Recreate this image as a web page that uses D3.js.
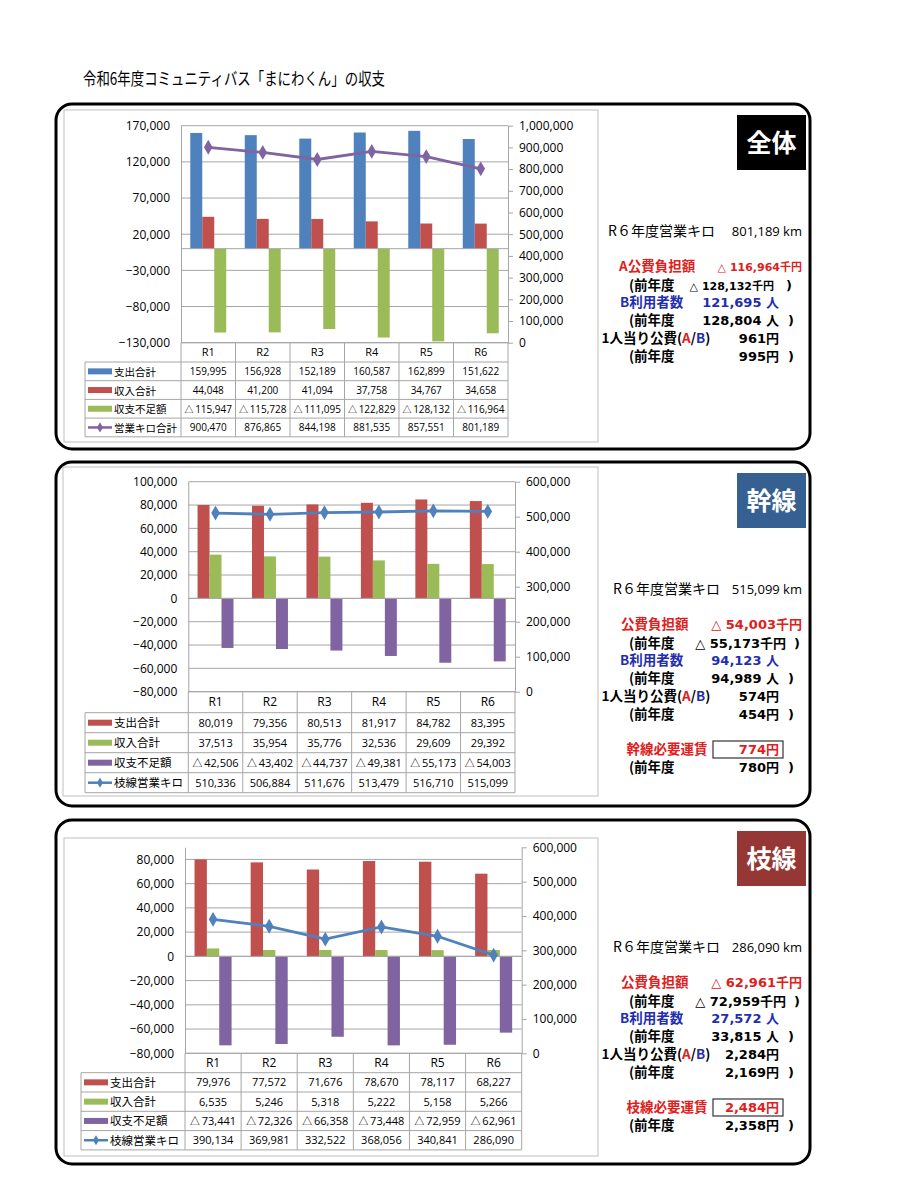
<!DOCTYPE html>
<html>
<head>
<meta charset="utf-8">
<script src="https://cdn.jsdelivr.net/npm/d3@7/dist/d3.min.js"></script>
<style>
  body { margin: 0; background: #fff; }
  text { font-family: "Noto Sans CJK JP", sans-serif; }
  .num { font-family: "Open Sans", "Noto Sans CJK JP", sans-serif; }
  .bnum { font-family: "DejaVu Sans", "Noto Sans CJK JP", sans-serif; font-weight: bold; }
</style>
</head>
<body>
<svg width="901" height="1200"></svg>
<script>
// ---- data ----
var years = ["R1", "R2", "R3", "R4", "R5", "R6"];

// 全体
var zentaiShishutsu = [159995, 156928, 152189, 160587, 162899, 151622];
var zentaiShunyu    = [44048, 41200, 41094, 37758, 34767, 34658];
var zentaiFusoku    = [-115947, -115728, -111095, -122829, -128132, -116964];
var zentaiKiro      = [900470, 876865, 844198, 881535, 857551, 801189];
var zentaiNames     = ["支出合計", "収入合計", "収支不足額", "営業キロ合計"];
var zentaiLeftTicks  = [-130000, -80000, -30000, 20000, 70000, 120000, 170000];
var zentaiRightTicks = [0, 100000, 200000, 300000, 400000, 500000, 600000, 700000, 800000, 900000, 1000000];
var zentaiInfo = ["801,189 km", "△ 116,964千円", "△ 128,132千円", "121,695 人", "128,804 人", "961円", "995円"];

// 幹線
var kansenShishutsu = [80019, 79356, 80513, 81917, 84782, 83395];
var kansenShunyu    = [37513, 35954, 35776, 32536, 29609, 29392];
var kansenFusoku    = [-42506, -43402, -44737, -49381, -55173, -54003];
var kansenKiro      = [510336, 506884, 511676, 513479, 516710, 515099];
var kansenNames     = ["支出合計", "収入合計", "収支不足額", "枝線営業キロ"];
var kansenLeftTicks  = [-80000, -60000, -40000, -20000, 0, 20000, 40000, 60000, 80000, 100000];
var kansenRightTicks = [0, 100000, 200000, 300000, 400000, 500000, 600000];
var kansenInfo = ["515,099 km", "△ 54,003千円", "△ 55,173千円", "94,123 人", "94,989 人", "574円", "454円", "774円", "780円"];

// 枝線
var shisenShishutsu = [79976, 77572, 71676, 78670, 78117, 68227];
var shisenShunyu    = [6535, 5246, 5318, 5222, 5158, 5266];
var shisenFusoku    = [-73441, -72326, -66358, -73448, -72959, -62961];
var shisenKiro      = [390134, 369981, 332522, 368056, 340841, 286090];
var shisenNames     = ["支出合計", "収入合計", "収支不足額", "枝線営業キロ"];
var shisenLeftTicks  = [-80000, -60000, -40000, -20000, 0, 20000, 40000, 60000, 80000];
var shisenRightTicks = [0, 100000, 200000, 300000, 400000, 500000, 600000];
var shisenInfo = ["286,090 km", "△ 62,961千円", "△ 72,959千円", "27,572 人", "33,815 人", "2,284円", "2,169円", "2,484円", "2,358円"];

var BLUE = "#4f81bd", RED = "#c0504d", GREEN = "#9bbb59", PURPLE = "#8064a2";
var TXT_RED = "#e0201c", TXT_BLUE = "#1f2db0";
var GRID = "#a6a6a6";

var svg = d3.select("svg");
var fmt = d3.format(",");

svg.append("text")
  .attr("x", 83).attr("y", 85)
  .attr("font-size", 17)
  .attr("textLength", 302).attr("lengthAdjust", "spacingAndGlyphs")
  .text("令和6年度コミュニティバス「まにわくん」の収支");

var panels = [
  { top: 104, bottom: 449, box: [64, 110, 598, 442],
    plot: { l: 181, r: 508, t: 125.7, b: 342.7 },
    leftDomain: [-130000, 170000], leftTicks: zentaiLeftTicks,
    rightDomain: [0, 1000000], rightTicks: zentaiRightTicks,
    bars: [zentaiShishutsu, zentaiShunyu, zentaiFusoku], colors: [BLUE, RED, GREEN],
    line: zentaiKiro, lineColor: PURPLE, names: zentaiNames,
    tableLeft: 85, headerH: 19.3, rowH: 18.7, cellSize: 10, legSize: 10.5,
    tag: "全体", tagColor: "#000", info: zentaiInfo, futanLabel: "A公費負担額", kiroX: 608 },
  { top: 462, bottom: 806, box: [63, 467, 598, 796],
    plot: { l: 188.3, r: 515, t: 481.7, b: 691.7 },
    leftDomain: [-80000, 100000], leftTicks: kansenLeftTicks,
    rightDomain: [0, 600000], rightTicks: kansenRightTicks,
    bars: [kansenShishutsu, kansenShunyu, kansenFusoku], colors: [RED, GREEN, PURPLE],
    line: kansenKiro, lineColor: BLUE, names: kansenNames,
    tableLeft: 85, headerH: 21, rowH: 20, cellSize: 11, legSize: 11.5,
    tag: "幹線", tagColor: "#376092", info: kansenInfo, futanLabel: "公費負担額", kiroX: 613,
    fareLabel: "幹線必要運賃" },
  { top: 820, bottom: 1164, box: [64, 838, 598, 1156],
    plot: { l: 185, r: 521.7, t: 847.3, b: 1053.3 },
    leftDomain: [-80000, 90000], leftTicks: shisenLeftTicks,
    rightDomain: [0, 600000], rightTicks: shisenRightTicks,
    bars: [shisenShishutsu, shisenShunyu, shisenFusoku], colors: [RED, GREEN, PURPLE],
    line: shisenKiro, lineColor: BLUE, names: shisenNames,
    tableLeft: 81, headerH: 19.4, rowH: 19.3, cellSize: 11, legSize: 11.5,
    tag: "枝線", tagColor: "#953735", info: shisenInfo, futanLabel: "公費負担額", kiroX: 613,
    fareLabel: "枝線必要運賃" }
];

panels.forEach(function (p) {
  var g = svg.append("g");

  // outer rounded frame
  g.append("rect")
    .attr("x", 56).attr("y", p.top)
    .attr("width", 754).attr("height", p.bottom - p.top)
    .attr("rx", 16).attr("ry", 16)
    .attr("fill", "none").attr("stroke", "#000").attr("stroke-width", 3);

  // chart box
  g.append("rect")
    .attr("x", p.box[0]).attr("y", p.box[1])
    .attr("width", p.box[2] - p.box[0]).attr("height", p.box[3] - p.box[1])
    .attr("fill", "#fff").attr("stroke", "#bfbfbf").attr("stroke-width", 1);

  var x = d3.scaleBand().domain(years).range([p.plot.l, p.plot.r]);
  var bw = x.bandwidth() * 0.66;
  var xs = d3.scaleBand().domain([0, 1, 2]).range([0, bw]);
  var yL = d3.scaleLinear().domain(p.leftDomain).range([p.plot.b, p.plot.t]);
  var yR = d3.scaleLinear().domain(p.rightDomain).range([p.plot.b, p.plot.t]);

  // gridlines
  g.selectAll(".grid").data(p.leftTicks).enter().append("line")
    .attr("x1", p.plot.l).attr("x2", p.plot.r)
    .attr("y1", function (d) { return yL(d); }).attr("y2", function (d) { return yL(d); })
    .attr("stroke", GRID).attr("stroke-width", 1);

  // left axis
  var la = g.append("g").attr("transform", "translate(" + p.plot.l + ",0)")
    .call(d3.axisLeft(yL).tickValues(p.leftTicks).tickSize(0).tickPadding(11).tickFormat(fmt));
  la.select(".domain").attr("stroke", GRID);
  la.selectAll("text").attr("class", "num").attr("font-size", 12).attr("fill", "#000");

  // right axis
  var ra = g.append("g").attr("transform", "translate(" + p.plot.r + ",0)")
    .call(d3.axisRight(yR).tickValues(p.rightTicks).tickSize(5).tickSizeOuter(0).tickPadding(6).tickFormat(fmt));
  ra.select(".domain").attr("stroke", GRID);
  ra.selectAll("line").attr("stroke", GRID);
  ra.selectAll("text").attr("class", "num").attr("font-size", 12).attr("fill", "#000");

  // bars
  p.bars.forEach(function (vals, si) {
    g.selectAll(".bar" + si).data(vals).enter().append("rect")
      .attr("x", function (d, i) { return x(years[i]) + (x.bandwidth() - bw) / 2 + xs(si); })
      .attr("width", xs.bandwidth())
      .attr("y", function (d) { return Math.min(yL(0), yL(d)); })
      .attr("height", function (d) { return Math.abs(yL(d) - yL(0)); })
      .attr("fill", p.colors[si]);
  });

  // zero line over bars
  g.append("line")
    .attr("x1", p.plot.l).attr("x2", p.plot.r)
    .attr("y1", yL(0)).attr("y2", yL(0))
    .attr("stroke", GRID);

  // line series
  var cx = function (d, i) { return x(years[i]) + x.bandwidth() / 2; };
  g.append("path")
    .datum(p.line)
    .attr("d", d3.line().x(cx).y(function (d) { return yR(d); }))
    .attr("fill", "none").attr("stroke", p.lineColor).attr("stroke-width", 2.8);
  g.selectAll(".mk").data(p.line).enter().append("path")
    .attr("transform", function (d, i) { return "translate(" + cx(d, i) + "," + yR(d) + ")"; })
    .attr("d", d3.symbol(d3.symbolDiamond, 64))
    .attr("fill", p.lineColor);

  // data table
  var t0 = p.plot.b, t1 = p.plot.b + p.headerH;
  var tEnd = t1 + p.rowH * 4;
  g.selectAll(".vsep").data(d3.range(years.length + 1)).enter().append("line")
    .attr("x1", function (d) { return p.plot.l + d * x.bandwidth(); })
    .attr("x2", function (d) { return p.plot.l + d * x.bandwidth(); })
    .attr("y1", t0).attr("y2", tEnd)
    .attr("stroke", GRID);
  g.append("line").attr("x1", p.tableLeft).attr("x2", p.tableLeft)
    .attr("y1", t1).attr("y2", tEnd).attr("stroke", GRID);
  g.append("line").attr("x1", p.plot.l).attr("x2", p.plot.r)
    .attr("y1", t0).attr("y2", t0).attr("stroke", GRID);
  g.selectAll(".hsep").data(d3.range(5)).enter().append("line")
    .attr("x1", p.tableLeft).attr("x2", p.plot.r)
    .attr("y1", function (d) { return t1 + d * p.rowH; })
    .attr("y2", function (d) { return t1 + d * p.rowH; })
    .attr("stroke", GRID);

  g.selectAll(".yr").data(years).enter().append("text")
    .attr("class", "num").attr("font-size", p.cellSize + 1)
    .attr("x", function (d) { return x(d) + x.bandwidth() / 2; })
    .attr("y", t0 + p.headerH / 2 + 4)
    .attr("text-anchor", "middle")
    .text(function (d) { return d; });

  var rows = p.bars.concat([p.line]);
  rows.forEach(function (vals, ri) {
    var cy = t1 + p.rowH * ri + p.rowH / 2;
    if (ri < 3) {
      g.append("rect").attr("x", p.tableLeft + 3).attr("y", cy - 3)
        .attr("width", 24).attr("height", 6).attr("fill", p.colors[ri]);
    } else {
      g.append("line").attr("x1", p.tableLeft + 3).attr("x2", p.tableLeft + 27)
        .attr("y1", cy).attr("y2", cy)
        .attr("stroke", p.lineColor).attr("stroke-width", 2.5);
      g.append("path").attr("transform", "translate(" + (p.tableLeft + 15) + "," + cy + ")")
        .attr("d", d3.symbol(d3.symbolDiamond, 30)).attr("fill", p.lineColor);
    }
    g.append("text")
      .attr("x", p.tableLeft + 29).attr("y", cy + 4.5)
      .attr("font-size", p.legSize)
      .text(p.names[ri]);
    var cells = g.selectAll(".c" + ri).data(vals).enter().append("text")
      .attr("class", "num").attr("font-size", p.cellSize)
      .attr("x", function (d, i) { return x(years[i]) + x.bandwidth() / 2; })
      .attr("y", cy + 4)
      .attr("text-anchor", "middle");
    cells.each(function (d) {
      var t = d3.select(this);
      if (d < 0) {
        t.append("tspan").attr("font-size", p.cellSize * 0.9).text("△");
        t.append("tspan").text("\u2009" + fmt(-d));
      } else {
        t.text(fmt(d));
      }
    });
  });

  // tag box
  g.append("rect").attr("x", 737).attr("y", p.top + 11)
    .attr("width", 69).attr("height", 55).attr("fill", p.tagColor);
  g.append("text").attr("x", 771.5).attr("y", p.top + 47.5)
    .attr("text-anchor", "middle").attr("font-size", 25).attr("font-weight", "bold")
    .attr("fill", "#fff").text(p.tag);

  // info text
  var T = p.top;
  var info = p.info;
  function lab(y, str, xx, color) {
    return g.append("text").attr("x", xx).attr("y", T + y + 4.5)
      .attr("font-size", 13.5).attr("font-weight", "bold")
      .attr("fill", color || "#000").text(str);
  }
  function val(y, str, xx, color, size) {
    return g.append("text").attr("class", "bnum").attr("x", xx).attr("y", T + y + 4.5)
      .attr("text-anchor", "end").attr("font-size", size || 13)
      .attr("fill", color || "#000").text(str);
  }
  function paren(y, xx) {
    g.append("text").attr("class", "bnum").attr("x", xx).attr("y", T + y + 4.5)
      .attr("font-size", 13).text(")");
  }
  var first = p.tag === "全体";

  g.append("text").attr("x", p.kiroX).attr("y", T + 127 + 5).attr("font-size", 14)
    .text("R６年度営業キロ");
  g.append("text").attr("class", "num").attr("x", 802).attr("y", T + 127 + 5)
    .attr("text-anchor", "end").attr("font-size", 13).text(info[0]);

  lab(162, p.futanLabel, first ? 619 : 621, TXT_RED);
  val(162, info[1], 802, TXT_RED, first ? 11 : 13);
  lab(181.5, "(前年度", 629);
  val(181.5, info[2], first ? 774 : 786, "#000", first ? 11 : 13);
  paren(181.5, first ? 786 : 794);

  lab(198.5, "B利用者数", 620, TXT_BLUE);
  val(198.5, info[3], 779, TXT_BLUE);
  lab(216, "(前年度", 629);
  val(216, info[4], 779);
  paren(216, 788);

  var pl = lab(234.5, "1人当り公費(", 601.5);
  pl.append("tspan").attr("fill", TXT_RED).text("A");
  pl.append("tspan").text("/");
  pl.append("tspan").attr("fill", TXT_BLUE).text("B");
  pl.append("tspan").text(")");
  val(234.5, info[5], 779);
  lab(252, "(前年度", 629);
  val(252, info[6], 779);
  paren(252, 788);

  if (p.fareLabel) {
    lab(287.5, p.fareLabel, 626.5, TXT_RED);
    g.append("rect").attr("x", 713).attr("y", T + 287.5 - 8.5)
      .attr("width", 70).attr("height", 17)
      .attr("fill", "none").attr("stroke", "#333").attr("stroke-width", 1.2);
    val(287.5, info[7], 779, TXT_RED);
    lab(305, "(前年度", 629);
    val(305, info[8], 779);
    paren(305, 788);
  }
});
</script>
</body>
</html>
